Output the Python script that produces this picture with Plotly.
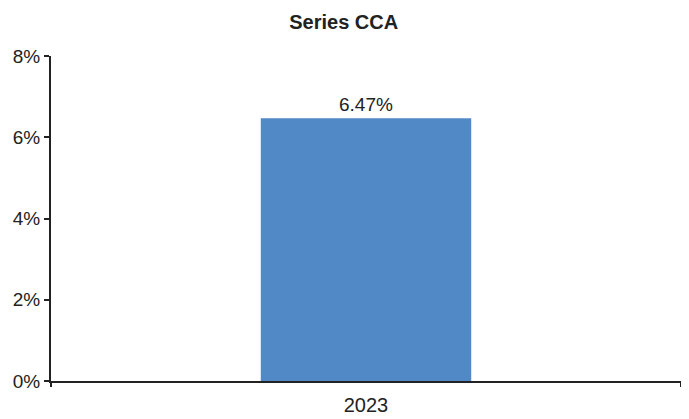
import plotly.graph_objects as go

categories = ["2023"]
values = [6.47]
labels = ["6.47%"]

fig = go.Figure(go.Bar(
    x=categories, y=values, text=labels, textposition="outside",
    marker=dict(color="#5189C6", line=dict(width=0)),
    textfont=dict(size=19, color="#222"),
    width=0.334, cliponaxis=False,
))
fig.update_layout(
    width=681, height=411,
    margin=dict(l=43, r=8, t=48, b=38),
    paper_bgcolor="white", plot_bgcolor="white",
    font=dict(family="Liberation Sans, Arial", size=19, color="#222"),
    title=dict(text="<b>Series CCA</b>", x=0.493, xanchor="center", y=0.966, yanchor="middle",
               font=dict(family="Liberation Sans", size=20, color="#222")),
    showlegend=False,
)
fig.update_yaxes(range=[0, 8], tickvals=[0, 2, 4, 6, 8], ticktext=["0%", "2%", "4%", "6%", "8%"],
                 showgrid=False, zeroline=False, showline=True, linecolor="#222", linewidth=2,
                 ticks="outside", ticklen=5, tickcolor="#222", tickwidth=2, automargin=False,
                 tickfont=dict(size=19))
fig.update_xaxes(type="category", showgrid=False, showline=True, linecolor="#222", linewidth=2,
                 ticks="outside", tickson="boundaries", ticklen=4, tickcolor="#222", tickwidth=2,
                 automargin=False, tickfont=dict(size=20), ticklabelstandoff=5)
fig.write_html("out.html")
